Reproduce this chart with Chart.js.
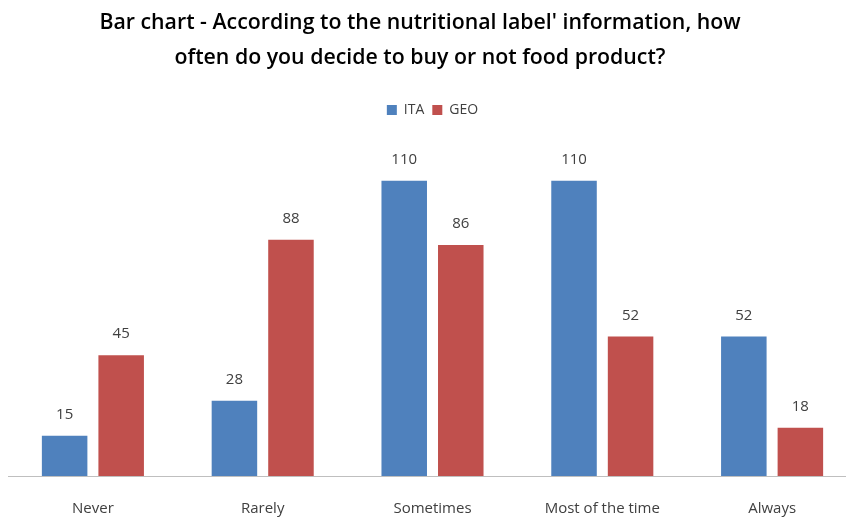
<!DOCTYPE html>
<html>
<head>
<meta charset="utf-8">
<script src="https://cdn.jsdelivr.net/npm/chart.js@4"></script>
<style>
  html, body { margin: 0; padding: 0; background: #fff; overflow: hidden; }
  #wrap { width: 859px; height: 521px; position: relative; }
</style>
</head>
<body>
<div id="wrap"><canvas id="chartCanvas"></canvas></div>
<script>
const categories = ['Never', 'Rarely', 'Sometimes', 'Most of the time', 'Always'];
const itaValues = [15, 28, 110, 110, 52];
const geoValues = [45, 88, 86, 52, 18];
const titleLines = ["Bar chart - According to the nutritional label' information, how",
                    'often do you decide to buy or not food product?'];

const FONT = "'Open Sans', 'Noto Sans', sans-serif";

const titlePlugin = {
  id: 'manualTitle',
  beforeDraw: function(chart) {
    const c = chart.ctx;
    c.save();
    c.fillStyle = '#000';
    c.textAlign = 'center';
    c.textBaseline = 'middle';
    c.font = '600 21.3px ' + FONT;
    c.fillText(titleLines[0], 420, 23);
    c.fillText(titleLines[1], 420, 58);
    c.restore();
  }
};

const valueLabels = {
  id: 'valueLabels',
  afterDatasetsDraw: function(chart) {
    const c = chart.ctx;
    c.save();
    c.fillStyle = '#404040';
    c.textAlign = 'center';
    c.textBaseline = 'middle';
    c.font = '15px ' + FONT;
    chart.data.datasets.forEach(function(ds, di) {
      const meta = chart.getDatasetMeta(di);
      meta.data.forEach(function(bar, i) {
        c.fillText(String(ds.data[i]), bar.x, bar.y - 21);
      });
    });
    c.restore();
  }
};

const ctx = document.getElementById('chartCanvas').getContext('2d');
new Chart(ctx, {
  type: 'bar',
  data: {
    labels: categories,
    datasets: [
      { label: 'ITA', data: itaValues, backgroundColor: '#4F81BD',
        categoryPercentage: 0.666, barPercentage: 0.805 },
      { label: 'GEO', data: geoValues, backgroundColor: '#C0504D',
        categoryPercentage: 0.666, barPercentage: 0.805 }
    ]
  },
  options: {
    responsive: true,
    maintainAspectRatio: false,
    animation: false,
    layout: { padding: { top: 95, right: 2, bottom: 0, left: 8 } },
    plugins: {
      title: { display: false },
      tooltip: { enabled: false },
      legend: {
        display: true,
        position: 'top',
        labels: {
          font: { size: 14, family: FONT },
          color: '#404040',
          boxWidth: 10,
          boxHeight: 10,
          padding: 8
        }
      }
    },
    scales: {
      x: {
        grid: { display: false },
        border: { color: '#BFBFBF', width: 1 },
        ticks: { font: { size: 15, family: FONT }, color: '#404040', padding: 16 },
        afterFit: function(scale) { scale.height = 45; }
      },
      y: {
        display: false,
        min: 0,
        max: 130
      }
    }
  },
  plugins: [titlePlugin, valueLabels]
});
</script>
</body>
</html>
